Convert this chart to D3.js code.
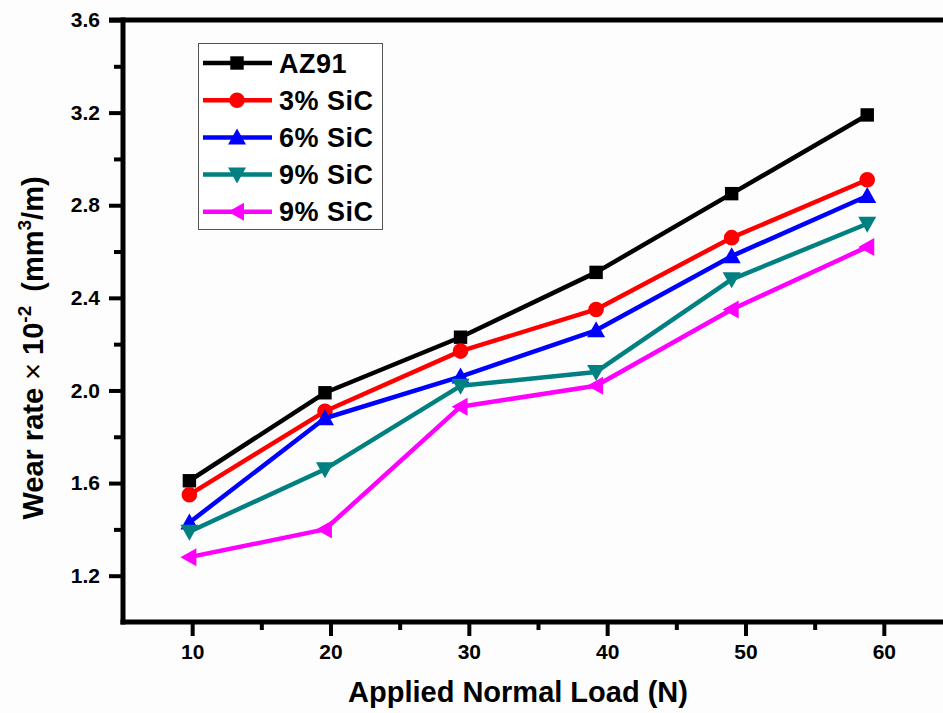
<!DOCTYPE html>
<html>
<head>
<meta charset="utf-8">
<script src="https://cdn.jsdelivr.net/npm/d3@7/dist/d3.min.js"></script>
<style>
  html, body { margin: 0; padding: 0; background: #fdfdfd; }
  svg { display: block; }
  text { font-family: "Liberation Sans", Arial, sans-serif; font-weight: bold; fill: #000; }
</style>
</head>
<body>
<svg id="chart" width="943" height="713"></svg>
<script>
// Applied load (N) for each test
const loads = [9.8, 19.6, 29.4, 39.2, 49, 58.8];

// Wear rate x 10^-2 (mm^3/m) per material
const az91   = [1.61, 1.99, 2.23, 2.51, 2.85, 3.19];
const sic3   = [1.55, 1.91, 2.17, 2.35, 2.66, 2.91];
const sic6   = [1.43, 1.88, 2.06, 2.26, 2.58, 2.84];
const sic9   = [1.39, 1.66, 2.02, 2.08, 2.48, 2.72];
const sic9b  = [1.28, 1.40, 1.93, 2.02, 2.35, 2.62];

const seriesNames  = ["AZ91", "3% SiC", "6% SiC", "9% SiC", "9% SiC"];
const seriesValues = [az91, sic3, sic6, sic9, sic9b];
const seriesColors = ["#000000", "#ff0000", "#0000ff", "#008080", "#ff00ff"];
const seriesShapes = ["square", "circle", "triUp", "triDown", "triLeft"];

const xMajorTicks = [10, 20, 30, 40, 50, 60];
const xMinorTicks = [15, 25, 35, 45, 55];
const yMajorTicks = [1.2, 1.6, 2.0, 2.4, 2.8, 3.2, 3.6];
const yMinorTicks = [1.4, 1.8, 2.2, 2.6, 3.0, 3.4];

const svg = d3.select("#chart");

const x = d3.scaleLinear().domain([5, 65]).range([123, 953]);
const y = d3.scaleLinear().domain([1.0, 3.6]).range([622, 20]);

const axisW = 5;

// frame: left, bottom and top borders (right edge lies past the canvas)
const frame = svg.append("g").attr("stroke", "#000").attr("stroke-width", axisW).attr("stroke-linecap", "butt");
frame.append("line").attr("x1", x(5)).attr("x2", x(5)).attr("y1", y(3.6) - axisW / 2).attr("y2", y(1.0) + axisW / 2);
frame.append("line").attr("x1", x(5) - axisW / 2).attr("x2", 943).attr("y1", y(1.0)).attr("y2", y(1.0));
frame.append("line").attr("x1", x(5) - 14).attr("x2", 943).attr("y1", y(3.6)).attr("y2", y(3.6));

const labelFont = "Liberation Sans, Arial, sans-serif";

// left axis
const yAxis = d3.axisLeft(y).tickValues(yMajorTicks).tickSize(14).tickPadding(9).tickFormat(d3.format(".1f"));
const yg = svg.append("g").attr("transform", `translate(${x(5)},0)`).call(yAxis);
yg.select(".domain").remove();
yg.selectAll(".tick line").attr("stroke-width", 4);
yg.selectAll(".tick text").attr("font-size", 21).attr("font-family", labelFont).attr("font-weight", "bold");

const yMinor = d3.axisLeft(y).tickValues(yMinorTicks).tickSize(9).tickFormat("");
const ymg = svg.append("g").attr("transform", `translate(${x(5)},0)`).call(yMinor);
ymg.select(".domain").remove();
ymg.selectAll(".tick line").attr("stroke-width", 4);

// bottom axis
const xAxis = d3.axisBottom(x).tickValues(xMajorTicks).tickSize(14).tickPadding(8).tickFormat(d3.format("d"));
const xg = svg.append("g").attr("transform", `translate(0,${y(1.0)})`).call(xAxis);
xg.select(".domain").remove();
xg.selectAll(".tick line").attr("stroke-width", 4);
xg.selectAll(".tick text").attr("font-size", 21).attr("font-family", labelFont).attr("font-weight", "bold");

const xMinor = d3.axisBottom(x).tickValues(xMinorTicks).tickSize(8).tickFormat("");
const xmg = svg.append("g").attr("transform", `translate(0,${y(1.0)})`).call(xMinor);
xmg.select(".domain").remove();
xmg.selectAll(".tick line").attr("stroke-width", 4);

// axis titles
svg.append("text")
  .attr("x", 518).attr("y", 702)
  .attr("text-anchor", "middle")
  .attr("font-size", 29)
  .text("Applied Normal Load (N)");

const yTitle = svg.append("text")
  .attr("transform", "translate(43,348) rotate(-90)")
  .attr("text-anchor", "middle")
  .attr("font-size", 29);
yTitle.append("tspan").text("Wear rate ");
yTitle.append("tspan").attr("font-weight", "normal").text("\u00d7");
yTitle.append("tspan").text(" 10");
yTitle.append("tspan").attr("font-size", 19).attr("dy", -12).text("-2");
yTitle.append("tspan").attr("dy", 12).attr("dx", 14).text("(mm");
yTitle.append("tspan").attr("font-size", 19).attr("dy", -12).text("3");
yTitle.append("tspan").attr("dy", 12).text("/m)");

// marker shapes
function markerPath(shape) {
  switch (shape) {
    case "square":  return d3.symbol(d3.symbolSquare, 180)();
    case "circle":  return d3.symbol(d3.symbolCircle, 190)();
    case "triUp":   return "M0,-9L9,7L-9,7Z";
    case "triDown": return "M0,9L9,-7L-9,-7Z";
    case "triLeft": return "M-9,0L7,-9L7,9Z";
  }
}

const line = d3.line().x((d, i) => x(loads[i])).y(d => y(d));

const plot = svg.append("g");
seriesValues.forEach((vals, s) => {
  const g = plot.append("g");
  g.append("path")
    .attr("d", line(vals))
    .attr("fill", "none")
    .attr("stroke", seriesColors[s])
    .attr("stroke-width", 4.5)
    .attr("stroke-linejoin", "round");
  g.selectAll("path.mk")
    .data(vals)
    .join("path")
    .attr("class", "mk")
    .attr("d", markerPath(seriesShapes[s]))
    .attr("transform", (d, i) => `translate(${x(loads[i])},${y(d)})`)
    .attr("fill", seriesColors[s]);
});

// legend
const legend = svg.append("g");
legend.append("rect")
  .attr("x", 198.5).attr("y", 43.5)
  .attr("width", 184).attr("height", 186)
  .attr("fill", "#ffffff")
  .attr("stroke", "#555")
  .attr("stroke-width", 1);

seriesNames.forEach((name, s) => {
  const cy = 63 + s * 37.2;
  legend.append("line")
    .attr("x1", 203).attr("x2", 272)
    .attr("y1", cy).attr("y2", cy)
    .attr("stroke", seriesColors[s]).attr("stroke-width", 4.5);
  legend.append("path")
    .attr("d", markerPath(seriesShapes[s]))
    .attr("transform", `translate(237,${cy})`)
    .attr("fill", seriesColors[s]);
  legend.append("text")
    .attr("x", 279).attr("y", cy + 9.5)
    .attr("font-size", 27)
    .attr("letter-spacing", 0.5)
    .text(name);
});
</script>
</body>
</html>
